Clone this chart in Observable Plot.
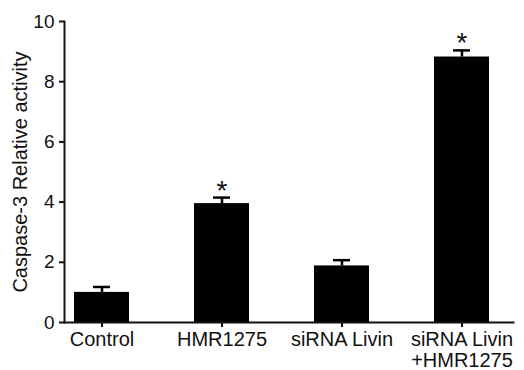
<!DOCTYPE html>
<html>
<head>
<meta charset="utf-8">
<script src="https://cdn.jsdelivr.net/npm/d3@7"></script>
<script src="https://cdn.jsdelivr.net/npm/@observablehq/plot@0.6"></script>
<style>
  html, body { margin: 0; padding: 0; background: #fff; }
  svg { display: block; }
</style>
</head>
<body>
<div id="chart"></div>
<script>
const groups = ["Control", "HMR1275", "siRNA Livin", "siRNA Livin\n+HMR1275"];
const values = [1.0, 3.95, 1.88, 8.82];
const errors = [0.18, 0.2, 0.19, 0.22];
const significant = [false, true, false, true];
const yTicks = [0, 2, 4, 6, 8, 10];
const yLabel = "Caspase-3 Relative activity";

const data = groups.map((g, i) => ({group: g, value: values[i], err: errors[i], sig: significant[i]}));

const font = "Liberation Sans, Arial, Helvetica, sans-serif";
const chart = Plot.plot({
  width: 524,
  height: 370,
  marginLeft: 64,
  marginRight: 11,
  marginTop: 21,
  marginBottom: 48,
  style: {fontFamily: font, color: "#111", background: "#fff"},
  x: {domain: groups, paddingInner: 0.54, paddingOuter: 0.127, align: 0.29, label: null},
  y: {domain: [0, 10], label: null},
  marks: [
    Plot.barY(data, {x: "group", y: "value", fill: "#000"}),
    Plot.ruleX(data, {x: "group", y1: "value", y2: d => d.value + d.err, stroke: "#000", strokeWidth: 2.5}),
    Plot.tickY(data, {x: "group", y: d => d.value + d.err, stroke: "#000", strokeWidth: 2.5, insetLeft: 19, insetRight: 19}),
    Plot.text(data.filter(d => d.sig), {x: "group", y: d => d.value + d.err, text: () => "*", fontSize: 28, lineAnchor: "bottom", dy: 2, fill: "#111"}),
    Plot.frame({anchor: "left", stroke: "#111", strokeWidth: 2}),
    Plot.frame({anchor: "bottom", stroke: "#111", strokeWidth: 2}),
    Plot.axisY({ticks: yTicks, tickSize: 5, tickPadding: 5, fontSize: 19, label: null, strokeWidth: 2, stroke: "#111"}),
    Plot.axisX({tickSize: 5, tickPadding: 4, fontSize: 20, label: null, strokeWidth: 2, stroke: "#111", lineHeight: 1.05}),
    Plot.text([yLabel], {frameAnchor: "left", textAnchor: "middle", rotate: -90, dx: -44, fontSize: 20, fill: "#111"})
  ]
});
document.getElementById("chart").append(chart);
</script>
</body>
</html>
